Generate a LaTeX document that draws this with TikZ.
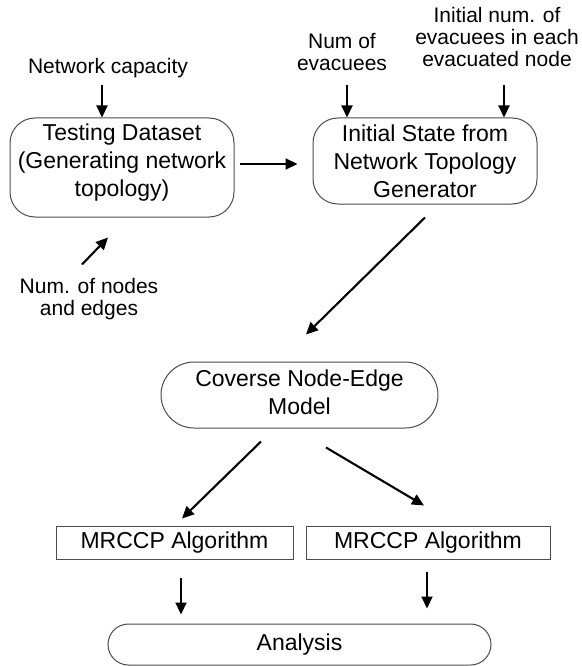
\documentclass[tikz,border=0pt]{standalone}
\usepackage{fontspec}
\setmainfont{Liberation Sans}
\usetikzlibrary{arrows.meta}
\begin{document}
\begin{tikzpicture}[x=1pt,y=-1pt,
  boxtext/.style={font=\fontsize{23}{28}\selectfont, align=center, inner sep=0pt},
  lbl/.style={font=\fontsize{21}{22}\selectfont, align=center, inner sep=0pt},
  rbox/.style={draw=black!70, line width=1pt, rounded corners=25pt, boxtext},
  pill/.style={draw=black!70, line width=1pt, boxtext},
  sbox/.style={draw=black!70, line width=1pt, boxtext},
  arr/.style={line width=2.1pt, -{Triangle[length=12pt,width=11pt]}}]
\useasboundingbox (0,0) rectangle (581,666);
% boxes
\node[rbox, minimum width=224pt, minimum height=99pt] (test) at (122,167.5) {};
\node[boxtext] (testt) at (122,163) {Testing Dataset\\(Generating network\\topology)};
\node[rbox, minimum width=224pt, minimum height=86pt] (init) at (425,161) {Initial State from\\Network Topology\\Generator};
\node[pill, rounded corners=33pt, minimum width=277pt, minimum height=66pt] (cov) at (299.5,395) {};
\node[boxtext] (covt) at (299.5,392) {Coverse Node-Edge\\Model};
\node[sbox, minimum width=237pt, minimum height=33pt] (mr1) at (174.5,542.5) {MRCCP Algorithm};
\node[sbox, minimum width=244pt, minimum height=33pt] (mr2) at (428,542.5) {MRCCP Algorithm};
\node[pill, rounded corners=20.5pt, minimum width=383pt, minimum height=41pt] (ana) at (299.5,644.5) {Analysis};
% labels
\node[lbl] (netcap) at (108,68) {Network capacity};
\node[lbl] (numev) at (342,52) {Num of\\evacuees};
\node[lbl] (initnum) at (497,37) {Initial num. of\\evacuees in each\\evacuated node};
\node[lbl] (nn) at (89,299) {Num. of nodes\\and edges};
% arrows
\coordinate (c1) at (102,85);
\coordinate (c2) at (347,85);
\coordinate (c3) at (504,85);
\draw[arr] (c1) -- (c1 |- test.north);
\draw[arr] (c2) -- (c2 |- init.north);
\draw[arr] (c3) -- (c3 |- init.north);
\draw[arr] ([shift={(-14,20)}]test.south) ++(-26,27) -- ([shift={(-14,20)}]test.south);
\draw[arr] ([shift={(5,-3.5)}]test.east) -- ([shift={(-15,3)}]init.west);
\draw[arr] ([shift={(0,13)}]init.south) -- ([shift={(6.5,-27)}]cov.north);
\draw[arr] ([shift={(-38.5,13)}]cov.south) -- ([shift={(7.5,-7)}]mr1.north);
\draw[arr] ([shift={(26.5,19)}]cov.south) -- ([shift={(-4,-20)}]mr2.north);
\draw[arr] ([shift={(6.5,18)}]mr1.south) -- ++(0,37);
\draw[arr] ([shift={(-1,12)}]mr2.south) -- ++(0,37);
\end{tikzpicture}
\end{document}
